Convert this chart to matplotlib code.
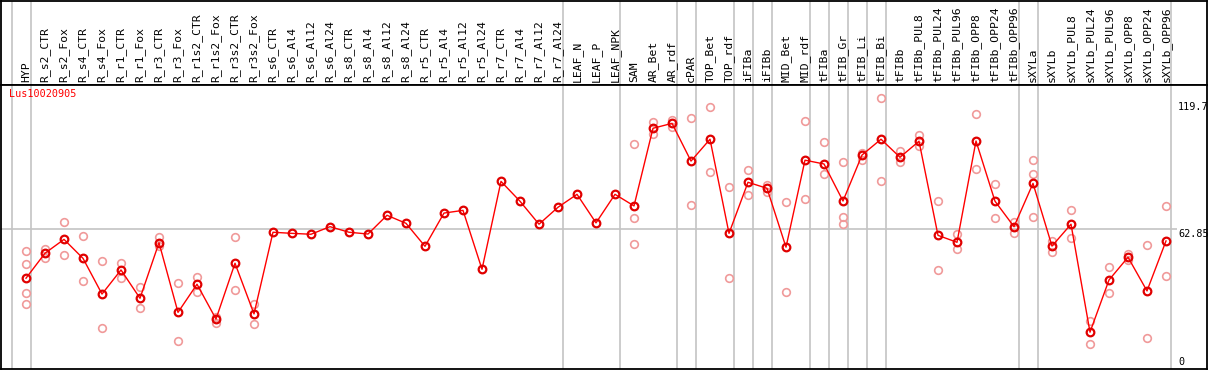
import matplotlib.pyplot as plt

# ---------------------------------------------------------
# Dados: amostras, médias e réplicas (Lus10020905)
# ---------------------------------------------------------
gene = "Lus10020905"

amostras = [
    "HYP", "R_s2_CTR", "R_s2_Fox", "R_s4_CTR", "R_s4_Fox", "R_r1_CTR", "R_r1_Fox",
    "R_r3_CTR", "R_r3_Fox", "R_r1s2_CTR", "R_r1s2_Fox", "R_r3s2_CTR", "R_r3s2_Fox",
    "R_s6_CTR", "R_s6_Al4", "R_s6_Al12", "R_s6_Al24", "R_s8_CTR", "R_s8_Al4",
    "R_s8_Al12", "R_s8_Al24", "R_r5_CTR", "R_r5_Al4", "R_r5_Al12", "R_r5_Al24",
    "R_r7_CTR", "R_r7_Al4", "R_r7_Al12", "R_r7_Al24", "LEAF_N", "LEAF_P", "LEAF_NPK",
    "SAM", "AR_Bet", "AR_rdf", "cPAR", "TOP_Bet", "TOP_rdf", "iFIBa", "iFIBb",
    "MID_Bet", "MID_rdf", "tFIBa", "tFIB_Gr", "tFIB_Li", "tFIB_Bi", "tFIBb",
    "tFIBb_PUL8", "tFIBb_PUL24", "tFIBb_PUL96", "tFIBb_OPP8", "tFIBb_OPP24",
    "tFIBb_OPP96", "sXYLa", "sXYLb", "sXYLb_PUL8", "sXYLb_PUL24", "sXYLb_PUL96",
    "sXYLb_OPP8", "sXYLb_OPP24", "sXYLb_OPP96",
]

medias = [
    40.7, 51.9, 58.1, 49.6, 33.6, 44.4, 31.7, 56.6, 25.4, 38.0, 22.4, 47.4, 24.7,
    61.3, 60.8, 60.4, 63.8, 61.3, 60.5, 68.9, 65.3, 55.0, 69.9, 71.1, 44.7,
    84.1, 75.2, 64.9, 72.5, 78.3, 65.5, 78.3,
    73.1, 107.9, 110.1, 93.2, 103.0, 60.8, 83.7, 81.0, 54.6, 93.6, 91.9, 75.3,
    95.9, 103.0, 94.9, 102.1, 59.9, 56.8, 102.2, 75.2, 63.8, 83.2, 55.1, 64.9,
    16.5, 39.9, 50.1, 35.0, 57.4,
]

replicas = [
    [52.9, 46.9, 33.9, 29.0], [53.9, 49.9], [65.8, 51.0], [59.5, 39.3],
    [48.4, 18.2], [47.4, 40.7], [36.6, 27.2], [59.0, 55.3], [38.4, 12.6],
    [41.2, 34.5], [23.5, 20.8], [59.0, 35.3], [29.1, 20.0],
    [], [], [], [], [], [], [], [], [], [], [], [], [], [], [], [], [], [], [],
    [100.7, 67.6, 55.9], [110.7, 105.2], [111.5, 108.6], [112.4, 73.4],
    [117.3, 88.2], [81.5, 40.7], [89.1, 77.9], [82.6, 79.2], [74.7, 34.5],
    [111.0, 76.2], [101.6, 87.3], [92.7, 68.1, 64.9], [97.0, 93.7],
    [121.4, 84.1], [97.7, 92.7], [104.9, 100.0], [75.3, 44.2], [60.5, 53.7],
    [114.3, 89.5], [82.8, 67.7], [66.0, 61.1], [93.7, 87.4, 68.0],
    [57.4, 52.6], [71.1, 58.6], [21.5, 11.1], [45.6, 33.9], [51.6, 48.9],
    [55.6, 13.8], [72.9, 41.6],
]

# último índice de cada grupo de amostras (-1 = linha inicial)
fim_grupos = [-1, 0, 28, 31, 34, 35, 37, 38, 39, 41, 42, 43, 44, 45, 52, 53, 60]

# valores marcados no eixo da direita
ref_max = 119.7
ref_meio = 62.85

# ---------------------------------------------------------
# Figura
# ---------------------------------------------------------
W, H = 1209, 370
fig = plt.figure(figsize=(W / 100, H / 100), dpi=100)
plt.rcParams["font.family"] = ["DejaVu Sans Mono"]

x_esq, x_dir = -25 / 19, 1181 / 19
cinza = "#c4c4c4"

ax_cab = fig.add_axes([1 / W, (H - 85) / H, 1206 / W, 84 / H])
ax = fig.add_axes([1 / W, 1 / H, 1206 / W, 284 / H])

for a in (ax_cab, ax):
    a.set_xlim(x_esq, x_dir)
    a.set_xticks([])
    a.set_yticks([])
    for s in a.spines.values():
        s.set_color("black")
        s.set_linewidth(1.3)
    for g in fim_grupos:
        a.axvline(g + 0.25, color=cinza, lw=1.2, zorder=0)

ax_cab.set_ylim(0, 1)
ax.set_ylim(0, 127.3)

# rótulos das amostras (cabeçalho)
for i, nome in enumerate(amostras):
    ax_cab.text(i, 0.03, nome, rotation=90, ha="center", va="bottom", fontsize=8.2)

# linha de referência
ax.hlines(ref_meio, x_esq, 60.58, color=cinza, lw=1.2, zorder=0)

# réplicas
for i, reps in enumerate(replicas):
    ax.plot([i] * len(reps), reps, "o", ms=5.5, mfc="none", mec="#f09a9a",
            mew=1.2, zorder=2, clip_on=False)

# médias
ax.plot(range(len(medias)), medias, "-", color="red", lw=1.0, zorder=3)
ax.plot(range(len(medias)), medias, "o", ms=5.5, mfc="none", mec="#e00000",
        mew=1.6, zorder=4)

ax.text(0.007, 0.985, gene, color="red", fontsize=7.3, ha="left", va="top",
        transform=ax.transAxes)

# eixo da direita
x_lab = 60.63
ax.text(x_lab, ref_max, f"{ref_max}", fontsize=7.3, ha="left", va="top")
ax.text(x_lab, ref_meio, f"{ref_meio}", fontsize=7.3, ha="left", va="top")
ax.text(x_lab, 0.8, "0", fontsize=7.3, ha="left", va="bottom")

fig.savefig("out.png", dpi=100)
